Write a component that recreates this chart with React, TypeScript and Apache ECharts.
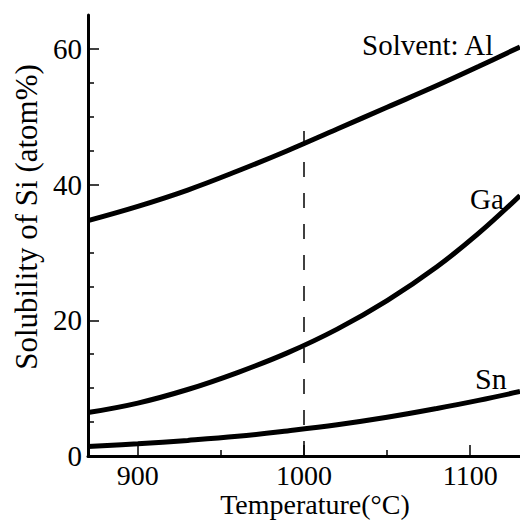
import React, { useEffect, useRef } from "react";
import * as echarts from "echarts";

const temps = [870, 900, 930, 960, 990, 1020, 1050, 1080, 1105, 1130];
const alValues = [34.7, 36.8, 39.2, 42.0, 45.0, 48.2, 51.4, 54.6, 57.4, 60.3];
const gaValues = [6.4, 7.8, 9.8, 12.3, 15.2, 18.7, 22.9, 27.9, 32.8, 38.4];
const snValues = [1.4, 1.8, 2.3, 2.9, 3.7, 4.6, 5.7, 7.0, 8.2, 9.5];

const xMajorTicks = [900, 1000, 1100];
const xMinorTicks = [950, 1050];
const yMajorTicks = [0, 20, 40, 60];
const yMinorTicks = [5, 10, 15, 25, 30, 35, 45, 50, 55];

const guideLine = [
  [1000, 0],
  [1000, 50],
];

const seriesNames = ["Solvent: Al", "Ga", "Sn"];
const xTitle = "Temperature(°C)";
const yTitle = "Solubility of Si (atom%)";

const FONT = "Liberation Serif";

export default function App() {
  const ref = useRef<HTMLDivElement>(null);
  useEffect(() => {
    document.body.style.margin = "0";
    if (!ref.current) return;
    const chart = echarts.init(ref.current, null, { renderer: "svg" });
    const zip = (vals: number[]) => temps.map((t, i) => [t, vals[i]]);
    const curve = (name: string, vals: number[]) => ({
      name,
      type: "line",
      data: zip(vals),
      smooth: 0.4,
      showSymbol: false,
      symbol: "none",
      lineStyle: { color: "#000", width: 5 },
      z: 3,
    });
    const xBase = {
      type: "value",
      min: 870,
      max: 1130,
      position: "bottom",
      splitLine: { show: false },
    };
    const yBase = {
      type: "value",
      min: 0,
      max: 65,
      position: "left",
      splitLine: { show: false },
    };
    chart.setOption({
      animation: false,
      backgroundColor: "#fff",
      grid: { left: 88, top: 15, right: 0, bottom: 64, containLabel: false },
      xAxis: [
        {
          ...xBase,
          axisLine: { show: true, lineStyle: { color: "#000", width: 3 } },
          axisTick: {
            show: true,
            inside: true,
            length: 11,
            customValues: xMajorTicks,
            lineStyle: { color: "#000", width: 1.5 },
          },
          axisLabel: {
            show: true,
            customValues: xMajorTicks,
            formatter: (v: number) => String(v),
            margin: 5,
            color: "#000",
            fontFamily: FONT,
            fontSize: 28,
          },
        },
        {
          ...xBase,
          axisLine: { show: false },
          axisTick: {
            show: true,
            inside: true,
            length: 6,
            customValues: xMinorTicks,
            lineStyle: { color: "#000", width: 1.5 },
          },
          axisLabel: { show: false, customValues: xMinorTicks },
        },
      ],
      yAxis: [
        {
          ...yBase,
          interval: 20,
          axisLine: { show: true, lineStyle: { color: "#000", width: 3 } },
          axisTick: {
            show: true,
            inside: true,
            length: 11,
            customValues: yMajorTicks,
            lineStyle: { color: "#000", width: 1.5 },
          },
          axisLabel: {
            show: true,
            customValues: yMajorTicks,
            formatter: (v: number) => String(v),
            margin: 6,
            color: "#000",
            fontFamily: FONT,
            fontSize: 29,
            padding: [8, 0, 0, 0],
          },
        },
        {
          ...yBase,
          axisLine: { show: false },
          axisTick: {
            show: true,
            inside: true,
            length: 6,
            customValues: yMinorTicks,
            lineStyle: { color: "#000", width: 1.5 },
          },
          axisLabel: { show: false, customValues: yMinorTicks },
        },
      ],
      series: [
        curve(seriesNames[0], alValues),
        curve(seriesNames[1], gaValues),
        curve(seriesNames[2], snValues),
        {
          name: "1000",
          type: "line",
          data: guideLine,
          showSymbol: false,
          symbol: "none",
          lineStyle: { color: "#000", width: 1.5, type: [15, 16] },
          z: 2,
        },
      ],
      graphic: [
        {
          type: "text",
          x: 362,
          y: 45,
          style: {
            text: seriesNames[0],
            fontFamily: FONT,
            fontSize: 29,
            fill: "#000",
            align: "left",
            verticalAlign: "middle",
          },
        },
        {
          type: "text",
          x: 470,
          y: 199,
          style: {
            text: seriesNames[1],
            fontFamily: FONT,
            fontSize: 29,
            fill: "#000",
            align: "left",
            verticalAlign: "middle",
          },
        },
        {
          type: "text",
          x: 475,
          y: 378,
          style: {
            text: seriesNames[2],
            fontFamily: FONT,
            fontSize: 30,
            fill: "#000",
            align: "left",
            verticalAlign: "middle",
          },
        },
        {
          type: "text",
          x: 315,
          y: 504,
          style: {
            text: xTitle,
            fontFamily: FONT,
            fontSize: 28,
            fill: "#000",
            align: "center",
            verticalAlign: "middle",
          },
        },
        {
          type: "text",
          x: 26,
          y: 217,
          rotation: Math.PI / 2,
          style: {
            text: yTitle,
            fontFamily: FONT,
            fontSize: 31,
            fill: "#000",
            align: "center",
            verticalAlign: "middle",
          },
        },
      ],
    });
    return () => chart.dispose();
  }, []);
  return <div ref={ref} style={{ width: 520, height: 520 }} />;
}
